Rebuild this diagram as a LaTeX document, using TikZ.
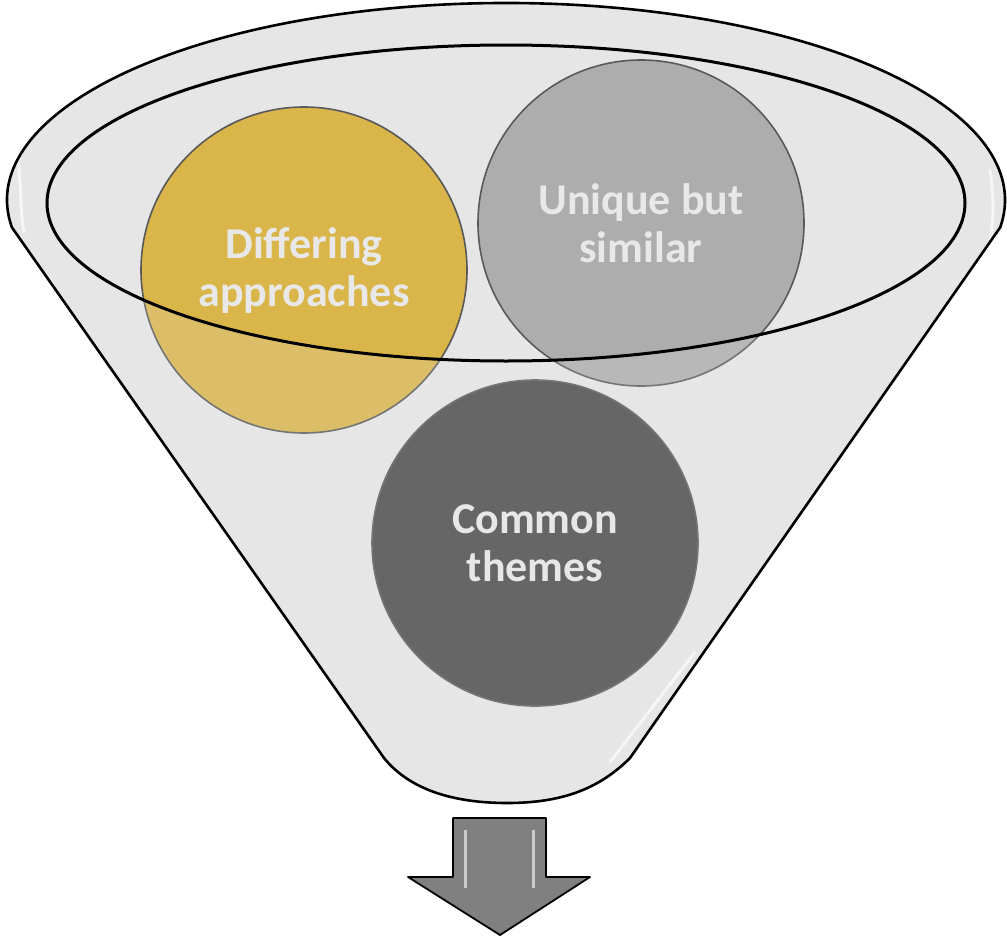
\documentclass[tikz,border=0pt]{standalone}
\usepackage{fontspec}
\setmainfont{Carlito}
\definecolor{funnelfill}{HTML}{E6E6E6}
\definecolor{yellowc}{HTML}{DAB54A}
\definecolor{greyc}{HTML}{ADADAE}
\definecolor{darkc}{HTML}{474747}
\definecolor{txtc}{HTML}{E8E8E8}
\definecolor{arrowc}{HTML}{808080}
\tikzset{
  funnelline/.style={draw=black, line width=2.6pt, line join=round},
  bubble/.style={circle, minimum size=326pt, inner sep=0pt, draw=black!65, line width=1.6pt,
     text=txtc, align=center, font=\bfseries\fontsize{44}{48}\selectfont},
  rimline/.style={draw=black, line width=3pt},
  gloss/.style={draw=white, line width=3pt, opacity=0.8, line cap=round},
  arrowbox/.style={fill=arrowc, draw=black, line width=1.8pt, line join=round},
}
\newcommand{\funnelpath}{(11.9,227.4) arc[start angle=188, end angle=-8, x radius=499pt, y radius=197pt]
   -- (630,758) .. controls (598,790) and (560,803) .. (507,803)
   .. controls (454,803) and (410,790) .. (384,758) -- cycle}
\begin{document}
\begin{tikzpicture}[x=1pt,y=-1pt]
\useasboundingbox (0,0) rectangle (1007,937);
% funnel body
\fill[funnelfill] \funnelpath;
% gloss highlights
\draw[gloss] (17,150) .. controls (22,190) and (20,215) .. (24,232);
\draw[gloss] (990,170) .. controls (994,200) and (994,215) .. (990,240);
\draw[gloss] (610,762) -- (695,652);
% circles
\node[bubble, fill=yellowc] (diff) at (304,270) {Differing\\approaches};
\node[bubble, fill=greyc] (uniq) at (641,223) {Unique but\\similar};
\node[bubble, fill=darkc] (comm) at (535,543) {Common\\themes};
% translucent front of funnel
\fill[funnelfill, opacity=0.2, even odd rule] \funnelpath (506,203) ellipse[x radius=459pt, y radius=158pt];
% rim
\draw[rimline] (506,203) ellipse[x radius=459pt, y radius=158pt];
\draw[funnelline] \funnelpath;
% arrow
\coordinate (tip) at (500,935);
\draw[arrowbox] (453,818) -- (546,818) -- (546,877) -- (590,877) -- (tip) -- (408,877) -- (453,877) -- cycle;
\draw[draw=white, opacity=0.6, line width=3pt] (465,830) -- (465,888);
\draw[draw=white, opacity=0.6, line width=3pt] (533,830) -- (533,888);
\end{tikzpicture}
\end{document}
